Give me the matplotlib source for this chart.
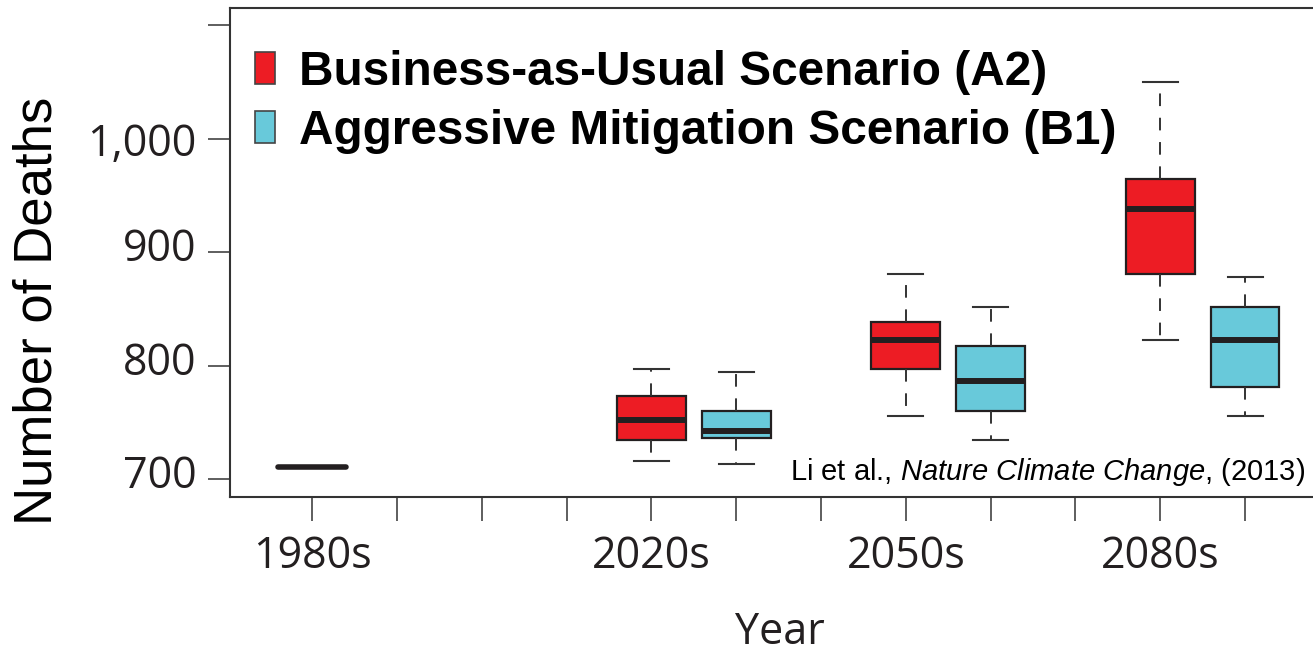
import matplotlib
matplotlib.use('Agg')
from matplotlib import pyplot as plt
from matplotlib.patches import Patch
from matplotlib.transforms import ScaledTranslation

plt.rcParams['mathtext.fontset'] = 'custom'
plt.rcParams['mathtext.rm'] = 'Liberation Sans'
plt.rcParams['mathtext.it'] = 'Liberation Sans:italic'

decades = ['1980s', '2020s', '2050s', '2080s']
baseline_1980s = 710.8

# A2 (business as usual) for 2020s, 2050s, 2080s
a2_low = [716.0, 755.5, 823.0]
a2_q1 = [734.4, 796.9, 880.6]
a2_med = [752.6, 823.0, 937.9]
a2_q3 = [773.4, 838.3, 964.0]
a2_high = [796.9, 880.4, 1050.0]

# B1 (aggressive mitigation)
b1_low = [713.2, 734.4, 755.5]
b1_q1 = [736.7, 760.2, 781.3]
b1_med = [742.6, 786.6, 823.0]
b1_q3 = [760.2, 817.4, 851.5]
b1_high = [794.3, 851.5, 877.7]

y_ticks = [700, 800, 900, 1000, 1100]
y_labels = ['700', '800', '900', '1,000', '']

RED = '#ED1C24'
CYAN = '#68C9DA'
EDGE = '#231F20'
LINE = '#333333'
TICKFONT = 'Open Sans'


def stats(low, q1, med, q3, high):
    return [dict(whislo=lo, q1=a, med=m, q3=b, whishi=hi, fliers=[])
            for lo, a, m, b, hi in zip(low, q1, med, q3, high)]


fig = plt.figure(figsize=(13.13, 6.57), dpi=100)
ax = fig.add_axes([230 / 1313, 1 - 497 / 657, 1 - 230 / 1313, (497 - 8) / 657])

for st, pos, color in [(stats(a2_low, a2_q1, a2_med, a2_q3, a2_high), [5, 8, 11], RED),
                       (stats(b1_low, b1_q1, b1_med, b1_q3, b1_high), [6, 9, 12], CYAN)]:
    ax.bxp(st, positions=pos, widths=0.81, capwidths=0.41, showfliers=False,
           patch_artist=True,
           boxprops=dict(facecolor=color, edgecolor=EDGE, linewidth=1.6),
           medianprops=dict(color=EDGE, linewidth=4.3, solid_capstyle='butt'),
           whiskerprops=dict(color=LINE, linewidth=1.4, linestyle=(0, (6.5, 6))),
           capprops=dict(color=LINE, linewidth=1.5))

# 1980s baseline is a single value
ax.plot([1 - 0.4, 1 + 0.4], [baseline_1980s, baseline_1980s], color=EDGE,
        linewidth=4.0, solid_capstyle='round')

ax.set_xlim(0.033, 12.8)
ax.set_ylim(684.4, 1115)

ax.set_xticks(range(1, 13))
xlab = [''] * 12
for p, d in zip([1, 5, 8, 11], decades):
    xlab[p - 1] = d
ax.set_xticklabels(xlab, fontsize=31, family=TICKFONT, color='#231F20')
ax.set_yticks(y_ticks)
ax.set_yticklabels(y_labels, fontsize=31, family=TICKFONT, color='#231F20')
ax.tick_params(axis='x', length=17, width=1.1, color=LINE, pad=10)
ax.tick_params(axis='y', length=16, width=1.1, color=LINE, pad=8)

# y labels in the original do not sit exactly on their ticks
for lab, shift_px in zip(ax.get_yticklabels(), [8, 7, 7.5, -1, 0]):
    up = ScaledTranslation(0, shift_px / fig.dpi, fig.dpi_scale_trans)
    lab.set_transform(lab.get_transform() + up)

for side in ['left', 'bottom', 'top']:
    ax.spines[side].set_color(LINE)
    ax.spines[side].set_linewidth(1.5)
ax.spines['right'].set_visible(False)

ax.set_xlabel('Year', fontsize=31, family=TICKFONT, color='#231F20')
ax.xaxis.set_label_coords(0.508, -0.233)
ax.set_ylabel('Number of Deaths', fontsize=38, family='Liberation Sans', color='black')
ax.yaxis.set_label_coords(-0.155, 0.38)

handles = [Patch(facecolor=RED, edgecolor='#444444', linewidth=1.2),
           Patch(facecolor=CYAN, edgecolor='#444444', linewidth=1.2)]
ax.legend(handles, ['Business-as-Usual Scenario (A2)', 'Aggressive Mitigation Scenario (B1)'],
          loc='upper left', bbox_to_anchor=(0.023, 0.915), frameon=False,
          prop=dict(family='Liberation Sans', weight='bold', size=34.4),
          handlelength=0.42, handleheight=0.65, handletextpad=0.5,
          labelspacing=0.3, borderpad=0, borderaxespad=0)

ax.text(0.9926, 0.035, r'Li et al., $\mathit{Nature\ Climate\ Change}$, (2013)',
        transform=ax.transAxes, ha='right', va='baseline', fontsize=21,
        family='Liberation Sans', color='black')

fig.savefig('out.png', dpi=100)
